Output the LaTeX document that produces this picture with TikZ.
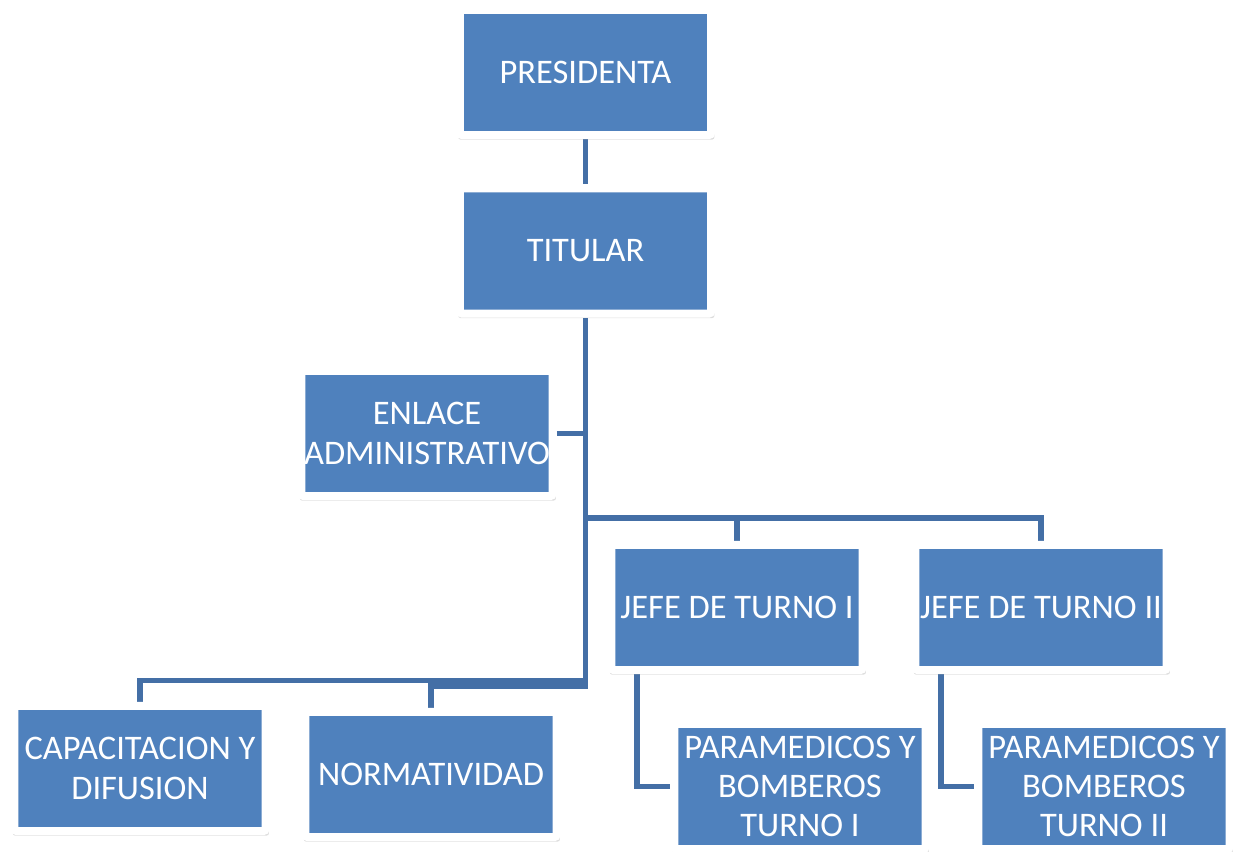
\documentclass[tikz,border=0pt]{standalone}
\usepackage{fontspec}
\setmainfont{Carlito}
\usepackage{xcolor}
\definecolor{BoxColor}{RGB}{79,129,189}
\definecolor{LinkColor}{RGB}{68,111,166}
\usetikzlibrary{shadows, backgrounds}

\begin{document}
\begin{tikzpicture}[
    x=0.025cm, y=-0.025cm,
    block/.style={rectangle, draw=white, line width=0.2cm, rounded corners=1.5pt, fill=BoxColor,
        minimum width=6.275cm, minimum height=3.125cm, inner sep=0pt, align=center, text=white,
        font=\fontsize{24.5}{28}\selectfont,
        drop shadow={shadow xshift=0.02cm, shadow yshift=-0.08cm, shadow scale=1.02, opacity=0.22, fill=black!60},
        drop shadow={shadow xshift=0.01cm, shadow yshift=-0.05cm, shadow scale=1.01, opacity=0.2, fill=black!60}},
    link/.style={draw=LinkColor, line width=0.13cm},
]

\useasboundingbox (0,0) rectangle (1233,852);

% Top
\node[block] (presidenta) at (585.5,72.5) {PRESIDENTA};
\node[block] (titular) at (585.5,251) {TITULAR};

% Staff
\node[block] (enlace) at (427,433.5) {ENLACE\\ADMINISTRATIVO};

% Shift heads
\node[block] (jefeI) at (737,607.5) {JEFE DE TURNO I};
\node[block] (jefeII) at (1041,607.5) {JEFE DE TURNO II};

% Crews
\node[block] (paramI) at (800,786.5) {PARAMEDICOS Y\\BOMBEROS\\TURNO I};
\node[block] (paramII) at (1104,786.5) {PARAMEDICOS Y\\BOMBEROS\\TURNO II};

% Bottom row
\node[block] (capac) at (140,768.5) {CAPACITACION Y\\DIFUSION};
\node[block] (norma) at (431,774.5) {NORMATIVIDAD};

% Bus points
\coordinate (busjefe) at (585.5,518);
\coordinate (buscap) at (585.5,680.5);
\coordinate (busnorm) at (585.5,686);

% Lines
\begin{pgfonlayer}{background}
\draw[link] (presidenta) -- (titular);
\draw[link] (titular.south) -- (busnorm) -| (norma.north);
\draw[link] (buscap) -| (capac.north);
\draw[link] (enlace.east) -- (enlace.east -| titular.south);
\draw[link] (busjefe) -| (jefeII.north);
\draw[link] (jefeI.north) -- (jefeI.north |- busjefe);
\draw[link] ([xshift=-2.5cm]jefeI.south) |- (paramI.west);
\draw[link] ([xshift=-2.5cm]jefeII.south) |- (paramII.west);
\end{pgfonlayer}

\end{tikzpicture}
\end{document}
